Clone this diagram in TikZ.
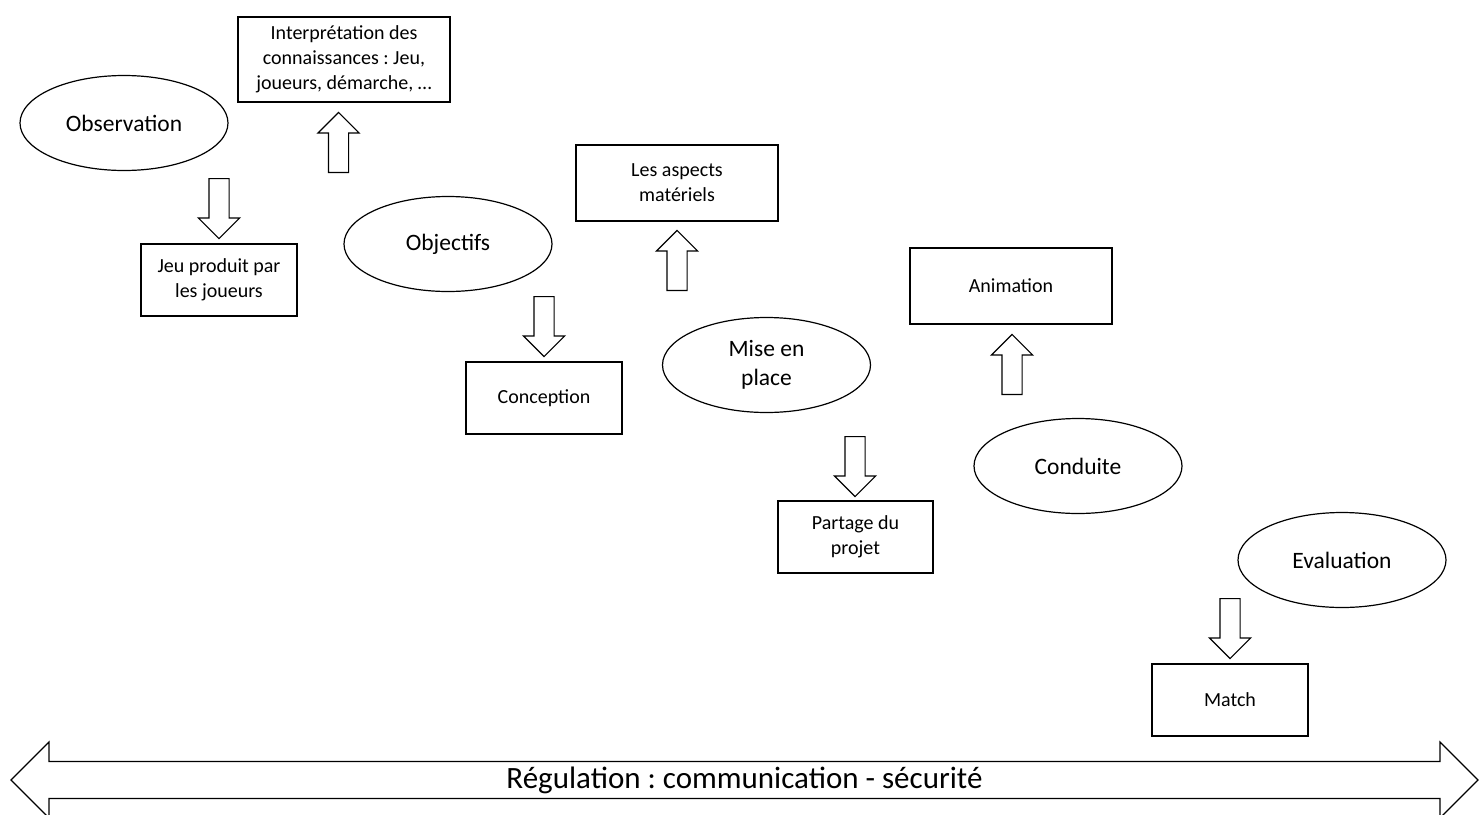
\documentclass[tikz,border=0pt]{standalone}
\usepackage{fontspec}
\setmainfont{Carlito}
\usetikzlibrary{shapes.geometric,shapes.arrows}
\frenchspacing

\begin{document}
\begin{tikzpicture}[x = 1pt, y = -1pt,
	phase/.style = {draw, ellipse, line width = 1.2pt, minimum width = 208pt, minimum height = 95pt, inner sep = 0pt, align = center, font = \fontsize{23.5}{29}\selectfont},
	task/.style = {draw, rectangle, line width = 1.2pt, inner sep = 0pt, align = center, font = \fontsize{20}{25}\selectfont},
	flow/.style = {draw, single arrow, line width = 1.2pt, minimum height = 60pt, minimum width = 40pt, single arrow head extend = 10.5pt, inner xsep = 0pt, inner ysep = 9.5pt, anchor = tail}]
	\useasboundingbox (0,0) rectangle (1479,814);
	\node[phase] (observation) at (124,123) {Observation};
	\node[task, minimum width = 212pt, minimum height = 85pt] (interpretation) at (344,59.5) {Interprétation des\\connaissances : Jeu,\\joueurs, démarche, …};
	\node[task, minimum width = 156pt, minimum height = 72pt] (jeu) at (219,280) {Jeu produit par\\les joueurs};
	\node[phase] (objectifs) at (448,244) {Objectifs};
	\node[task, minimum width = 202pt, minimum height = 76pt] (materiel) at (677,183) {Les aspects\\matériels};
	\node[task, minimum width = 156pt, minimum height = 72pt] (conception) at (544,398) {Conception};
	\node[phase] (miseenplace) at (766.5,365) {Mise en\\place};
	\node[task, minimum width = 155pt, minimum height = 72pt] (partage) at (855.5,537) {Partage du\\projet};
	\node[task, minimum width = 202pt, minimum height = 76pt] (animation) at (1011,286) {Animation};
	\node[phase] (conduite) at (1078,466) {Conduite};
	\node[phase] (evaluation) at (1342,560) {Evaluation};
	\node[task, minimum width = 156pt, minimum height = 72pt] (match) at (1230,700) {Match};
	\node[flow, rotate = -90] (toJeu) at (219,178) {};
	\node[flow, rotate = 90] (toInterpretation) at (338.5,173) {};
	\node[flow, rotate = -90] (toConception) at (544,296) {};
	\node[flow, rotate = 90] (toMateriel) at (677,291) {};
	\node[flow, rotate = -90] (toPartage) at (855,436) {};
	\node[flow, rotate = 90] (toAnimation) at (1012,395) {};
	\node[flow, rotate = -90] (toMatch) at (1230,598) {};
	\node[draw, double arrow, line width = 1.2pt, minimum height = 1467pt, minimum width = 76pt, double arrow head extend = 19pt, inner xsep = 0pt, inner ysep = 4pt, font = \fontsize{31}{37}\selectfont] (regulation) at (744.5,780) {Régulation : communication - sécurité};
\end{tikzpicture}
\end{document}
